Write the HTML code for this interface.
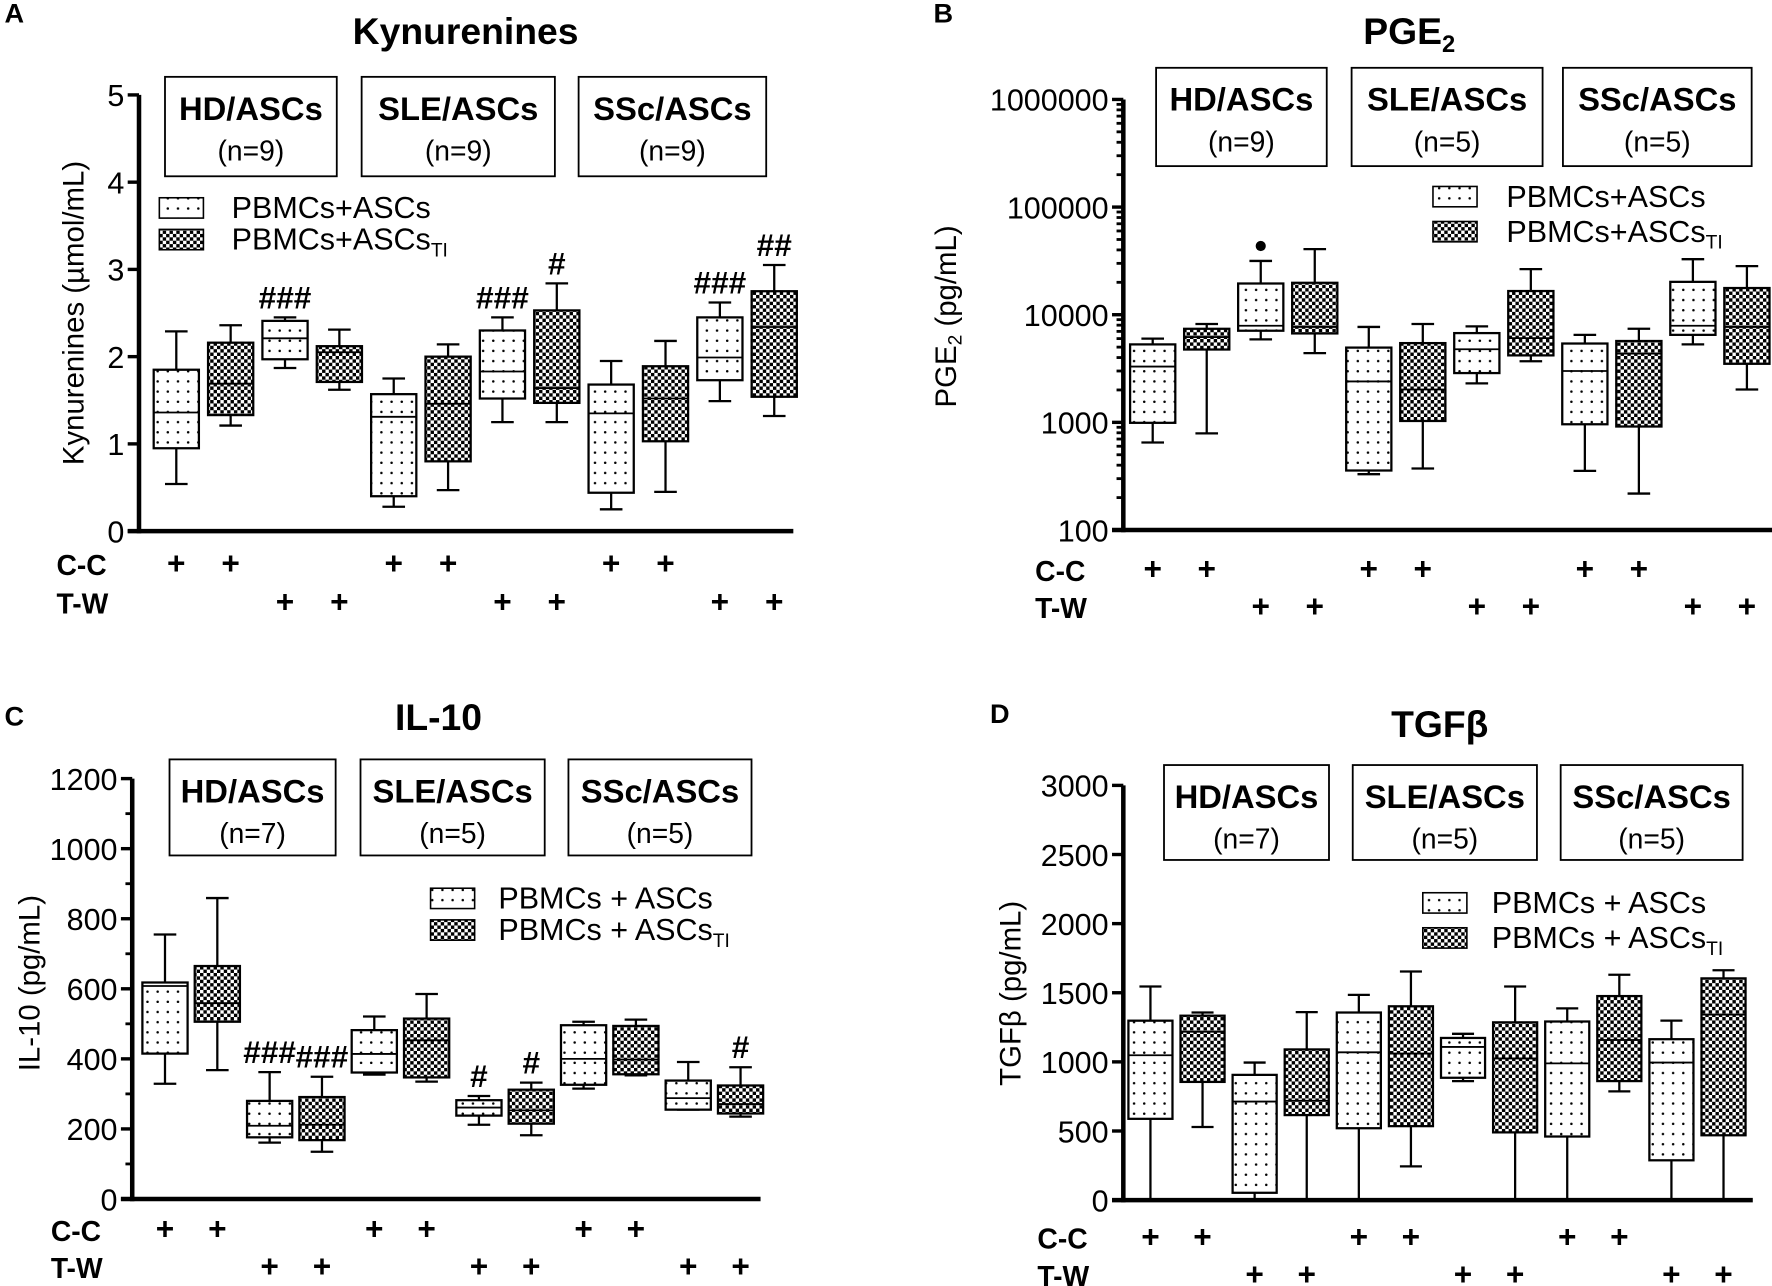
<!DOCTYPE html>
<html><head><meta charset="utf-8">
<style>
html,body{margin:0;padding:0;background:#fff;}
svg{display:block;font-family:"Liberation Sans",Arial,sans-serif;}
</style></head>
<body>
<svg id="fig" width="1772" height="1286" viewBox="0 0 1568 1138" preserveAspectRatio="none" xmlns="http://www.w3.org/2000/svg">
<defs>
<pattern id="dots" width="9" height="9" patternUnits="userSpaceOnUse">
<rect width="9" height="9" fill="#fff"/><circle cx="4.5" cy="4.5" r="1.1" fill="#000"/>
</pattern>
<pattern id="checker" width="6" height="6" patternUnits="userSpaceOnUse">
<rect width="6" height="6" fill="#fff"/><rect width="3" height="3" fill="#000"/><rect x="3" y="3" width="3" height="3" fill="#000"/>
</pattern>
</defs>
</svg>
<script>
// ---------- Panel A: Kynurenines ----------
const kynHigh = [2.29,2.36,2.45,2.31,1.75,2.14,2.45,2.84,1.95,2.18,2.62,3.05];
const kynQ3   = [1.85,2.16,2.41,2.12,1.57,2.00,2.30,2.53,1.68,1.89,2.45,2.75];
const kynMed  = [1.36,1.69,2.21,2.05,1.31,1.46,1.83,1.64,1.35,1.52,1.99,2.34];
const kynQ1   = [0.95,1.33,1.97,1.71,0.40,0.80,1.52,1.47,0.44,1.03,1.73,1.54];
const kynLow  = [0.54,1.21,1.87,1.62,0.28,0.47,1.25,1.25,0.25,0.45,1.49,1.32];
const kynSig  = ["","","###","","","","###","#","","","###","##"];
const kynTicks = [0,1,2,3,4,5];
// ---------- Panel B: PGE2 ----------
const pgeHigh = [6000,8200,31600,40700,7700,8200,7800,26500,6500,7400,32800,28300];
const pgeQ3   = [5300,7400,19500,19800,4950,5450,6750,16600,5400,5700,20200,17700];
const pgeMed  = [3300,6200,7900,7700,2400,2020,4780,6060,3000,4350,7900,7700];
const pgeQ1   = [990,4750,7100,6700,357,1030,2870,4190,960,915,6500,3500];
const pgeLow  = [650,790,5900,4400,330,373,2300,3700,354,218,5300,2020];
const pgeOutVal = [43500];
const pgeOutIdx = [2];
const pgeTicks = [100,1000,10000,100000,1000000];
// ---------- Panel C: IL-10 ----------
const ilHigh = [755,859,362,349,521,585,294,332,506,512,391,376];
const ilQ3   = [618,665,280,291,482,515,282,312,496,494,338,324];
const ilMed  = [608,559,209,212,414,453,261,253,400,398,288,271];
const ilQ1   = [415,506,176,168,361,347,238,215,326,356,255,244];
const ilLow  = [329,368,161,135,355,335,212,182,315,353,255,235];
const ilSig  = ["","","###","###","","","#","#","","","","#"];
const ilTicks = [0,200,400,600,800,1000,1200];
// ---------- Panel D: TGFβ ----------
const tgfHigh = [1545,1357,995,1360,1485,1654,1203,1545,1387,1630,1298,1663];
const tgfQ3   = [1298,1334,906,1090,1357,1402,1173,1286,1292,1476,1164,1604];
const tgfMed  = [1048,1218,713,719,1069,1060,1108,1025,989,1158,995,1342];
const tgfQ1   = [588,855,53,615,520,535,885,490,460,861,288,469];
const tgfLow  = [0,529,0,0,0,244,861,0,0,787,0,0];
const tgfTicks = [0,500,1000,1500,2000,2500,3000];

const groupNames = ["HD/ASCs","SLE/ASCs","SSc/ASCs"];
const ccRow = [1,1,0,0,1,1,0,0,1,1,0,0];
const twRow = [0,0,1,1,0,0,1,1,0,0,1,1];

const svg = document.getElementById('fig');
const NS = 'http://www.w3.org/2000/svg';
function mk(tag, attrs, parent){
  const e = document.createElementNS(NS, tag);
  for (const k in attrs) e.setAttribute(k, attrs[k]);
  (parent||svg).appendChild(e);
  return e;
}
function txt(str, x, y, size, weight, anchor, parent){
  const t = mk('text', {x:x, y:y, 'font-size':size, 'font-weight':weight||'normal', 'text-anchor':anchor||'middle', fill:'#000'}, parent);
  t.textContent = str;
  return t;
}

function drawPanel(c, d){
  const g = mk('g', {});
  
  
  const L = txt(c.letter, c.letterX, c.letterY, 24, 'bold', 'start', g);
  
  
  const T = mk('text', {x:c.titleX, y:c.titleY, 'font-size':33, 'font-weight':'bold', 'text-anchor':'middle'}, g);
  
  
  T.innerHTML = c.titleHTML;
  const yA = mk('line', {x1:c.axX, x2:c.axX, y1:c.yPos(c.ticks[c.ticks.length-1]), y2:c.yPos(c.ticks[0])+2, stroke:'#000','stroke-width':4}, g);
  
  
  const xA = mk('line', {x1:c.axX-10, x2:c.axEnd, y1:c.yPos(c.ticks[0]), y2:c.yPos(c.ticks[0]), stroke:'#000','stroke-width':4}, g);
  
  
  for (const v of c.ticks){
    const y = c.yPos(v);
    mk('line', {x1:c.axX-10, x2:c.axX, y1:y, y2:y, stroke:'#000','stroke-width':3}, g);
    const tl = txt(c.fmt(v), c.axX-13, y+10, c.tickSize, 'normal', 'end', g);
    
    
  }
  if (c.minor){
    for (const v of c.minor){
      const y = c.yPos(v);
      mk('line', {x1:c.axX-6, x2:c.axX, y1:y, y2:y, stroke:'#000','stroke-width':2.5}, g);
    }
  }
  const yt = mk('text', {x:0, y:0, 'font-size':26, 'text-anchor':'middle', transform:'translate('+c.yTitleX+','+c.yTitleY+') rotate(-90)'}, g);
  
  
  yt.innerHTML = c.yTitleHTML;
  c.headers.forEach((h, i) => {
    const hb = mk('rect', {x:h[0], y:c.hY0, width:h[1]-h[0], height:c.hY1-c.hY0, fill:'#fff', stroke:'#000','stroke-width':1.6}, g);
    
    
    const cx = (h[0]+h[1])/2;
    const h1 = txt(groupNames[i], cx, c.hY0+38, 29, 'bold', 'middle', g);
    
    
    const h2 = txt('(n=' + c.ns[i] + ')', cx, c.hY0+74, 25, 'normal', 'middle', g);
    
    
  });
  const legs = [['url(#dots)', c.leg1], ['url(#checker)', c.leg2]];
  legs.forEach((l, i) => {
    const ly = c.legY + i*c.legGap;
    const sw = mk('rect', {x:c.legX, y:ly-9, width:39, height:18, fill:l[0], stroke:'#000','stroke-width':1.4}, g);
    
    
    const lt = mk('text', {x:c.legTX, y:ly+9, 'font-size':27, 'text-anchor':'start'}, g);
    
    
    lt.innerHTML = l[1];
  });
  const hw = c.bw/2;
  for (let i = 0; i < d.high.length; i++){
    const x = c.x0 + c.step*i;
    const yH = c.yPos(d.high[i]), yQ3 = c.yPos(d.q3[i]), yM = c.yPos(d.med[i]), yQ1 = c.yPos(d.q1[i]), yL = c.yPos(d.low[i]);
    const bg = mk('g', {}, g);
    
    
    mk('line', {x1:x, x2:x, y1:yH, y2:yQ3, stroke:'#000','stroke-width':2}, bg);
    mk('line', {x1:x, x2:x, y1:yQ1, y2:yL, stroke:'#000','stroke-width':2}, bg);
    mk('line', {x1:x-hw/2, x2:x+hw/2, y1:yH, y2:yH, stroke:'#000','stroke-width':2}, bg);
    mk('line', {x1:x-hw/2, x2:x+hw/2, y1:yL, y2:yL, stroke:'#000','stroke-width':2}, bg);
    mk('rect', {x:x-hw, y:yQ3, width:c.bw, height:Math.max(1,yQ1-yQ3), fill: i%2===0 ? 'url(#dots)' : 'url(#checker)', stroke:'#000','stroke-width':2}, bg);
    mk('line', {x1:x-hw, x2:x+hw, y1:yM, y2:yM, stroke:'#000','stroke-width':1.6}, bg);
    if (d.sig && d.sig[i]){
      const s = txt(d.sig[i], x, yH-8, 28, 'bold', 'middle', g);
      
      
    }
    const cc = txt(ccRow[i] ? '+' : '', x, c.ccY+9, 28, 'bold', 'middle', g);
    
    
    const tw = txt(twRow[i] ? '+' : '', x, c.twY+9, 28, 'bold', 'middle', g);
    
    
  }
  if (d.outIdx){
    d.outIdx.forEach((k, j) => {
      const o = mk('circle', {cx:c.x0 + c.step*k, cy:c.yPos(d.outVal[j]), r:4.5, fill:'#000'}, g);
      
      
    });
  }
  const ccl = txt('C-C', c.rowLX, c.ccY+10, 25, 'bold', 'start', g);
  
  
  const twl = txt('T-W', c.rowLX, c.twY+10, 25, 'bold', 'start', g);
  
  
}

const TI = '<tspan font-size="17" dy="6">TI</tspan>';
function linY(v0, y0, v1, y1){ return v => y0 + (v - v0) * (y1 - y0) / (v1 - v0); }
function logY(y100, y1e6){ return v => y100 + (Math.log10(v) - 2) * (y1e6 - y100) / 4; }

drawPanel({
  name:'panel-a-kynurenines', letter:'A', letterX:4, letterY:20, titleX:412, titleY:39,
  titleHTML:'Kynurenines', axX:123, axEnd:702, yPos:linY(0,470,5,84), ticks:kynTicks,
  fmt:v=>String(v), tickSize:27, yTitleX:74, yTitleY:277, yTitleHTML:'Kynurenines (µmol/mL)',
  headers:[[146,298],[320,491],[512,678]], hY0:68, hY1:156, ns:[9,9,9],
  legX:141, legTX:205, legY:184, legGap:28, leg1:'PBMCs+ASCs', leg2:'PBMCs+ASCs'+TI,
  x0:156, step:48.1, bw:40, ccY:499, twY:533, rowLX:50
}, {high:kynHigh, q3:kynQ3, med:kynMed, q1:kynQ1, low:kynLow, sig:kynSig});

const pgeMinor = [];
for (let e = 2; e < 6; e++) for (let m = 2; m <= 9; m++) pgeMinor.push(m * Math.pow(10, e));
drawPanel({
  name:'panel-b-pge2', letter:'B', letterX:826, letterY:20, titleX:1247, titleY:39,
  titleHTML:'PGE<tspan font-size="21" dy="7">2</tspan>', axX:994, axEnd:1568, yPos:logY(469,88), ticks:pgeTicks, minor:pgeMinor,
  fmt:v=>String(v), tickSize:27, yTitleX:846, yTitleY:280, yTitleHTML:'PGE<tspan font-size="17" dy="5">2</tspan><tspan dy="-5"> (pg/mL)</tspan>',
  headers:[[1023,1174],[1196,1365],[1383,1550]], hY0:60, hY1:147, ns:[9,5,5],
  legX:1268, legTX:1333, legY:174, legGap:31, leg1:'PBMCs+ASCs', leg2:'PBMCs+ASCs'+TI,
  x0:1020, step:47.8, bw:40, ccY:504, twY:537, rowLX:916
}, {high:pgeHigh, q3:pgeQ3, med:pgeMed, q1:pgeQ1, low:pgeLow, outIdx:pgeOutIdx, outVal:pgeOutVal});

const ilMinor = [100,300,500,700,900,1100];
drawPanel({
  name:'panel-c-il10', letter:'C', letterX:4, letterY:642, titleX:388, titleY:646,
  titleHTML:'IL-10', axX:117, axEnd:673, yPos:linY(0,1061,1200,689), ticks:ilTicks, minor:ilMinor,
  fmt:v=>String(v), tickSize:27, yTitleX:35, yTitleY:870, yTitleHTML:'IL-10 (pg/mL)',
  headers:[[150,297],[319,482],[503,665]], hY0:672, hY1:757, ns:[7,5,5],
  legX:381, legTX:441, legY:795, legGap:28, leg1:'PBMCs + ASCs', leg2:'PBMCs + ASCs'+TI,
  x0:146, step:46.3, bw:40, ccY:1088, twY:1121, rowLX:45
}, {high:ilHigh, q3:ilQ3, med:ilMed, q1:ilQ1, low:ilLow, sig:ilSig});

drawPanel({
  name:'panel-d-tgfb', letter:'D', letterX:876, letterY:640, titleX:1274, titleY:652,
  titleHTML:'TGFβ', axX:994, axEnd:1551, yPos:linY(0,1062,3000,695), ticks:tgfTicks,
  fmt:v=>String(v), tickSize:27, yTitleX:903, yTitleY:879, yTitleHTML:'TGFβ (pg/mL)',
  headers:[[1030,1176],[1197,1360],[1381,1542]], hY0:677, hY1:761, ns:[7,5,5],
  legX:1259, legTX:1320, legY:799, legGap:31, leg1:'PBMCs + ASCs', leg2:'PBMCs + ASCs'+TI,
  x0:1018, step:46.1, bw:39, ccY:1095, twY:1128, rowLX:918
}, {high:tgfHigh, q3:tgfQ3, med:tgfMed, q1:tgfQ1, low:tgfLow});
</script>
</body></html>
